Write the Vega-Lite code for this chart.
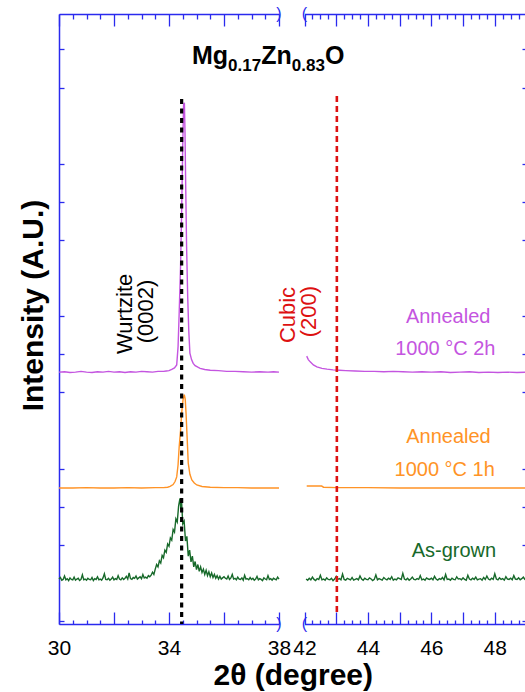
{
  "$schema": "https://vega.github.io/schema/vega-lite/v6.json",
  "width": 468,
  "height": 610,
  "autosize": {"type": "none"},
  "padding": {"left": 59, "top": 14, "right": 0, "bottom": 68},
  "background": "white",
  "config": {
    "view": {"stroke": null},
    "font": "Liberation Sans",
    "axis": {"grid": false, "domainColor": "#2a2aee", "tickColor": "#2a2aee", "domainWidth": 1.5, "tickWidth": 1.3, "labelFont": "Liberation Sans", "titleFont": "Liberation Sans", "labelColor": "#000000", "titleColor": "#000000"}
  },
  "datasets": {
    "tr": [
      {"s":"2h","k":"L","x":30,"y":6.53},{"s":"2h","k":"L","x":30.2,"y":6.54},{"s":"2h","k":"L","x":30.4,"y":6.52},{"s":"2h","k":"L","x":30.6,"y":6.53},{"s":"2h","k":"L","x":30.8,"y":6.55},{"s":"2h","k":"L","x":31,"y":6.53},{"s":"2h","k":"L","x":31.2,"y":6.52},{"s":"2h","k":"L","x":31.4,"y":6.54},{"s":"2h","k":"L","x":31.6,"y":6.53},{"s":"2h","k":"L","x":31.8,"y":6.55},{"s":"2h","k":"L","x":32,"y":6.53},{"s":"2h","k":"L","x":32.2,"y":6.54},{"s":"2h","k":"L","x":32.4,"y":6.52},{"s":"2h","k":"L","x":32.6,"y":6.54},{"s":"2h","k":"L","x":32.8,"y":6.53},{"s":"2h","k":"L","x":33,"y":6.55},{"s":"2h","k":"L","x":33.2,"y":6.54},{"s":"2h","k":"L","x":33.4,"y":6.53},{"s":"2h","k":"L","x":33.6,"y":6.55},{"s":"2h","k":"L","x":33.8,"y":6.55},{"s":"2h","k":"L","x":33.9,"y":6.56},{"s":"2h","k":"L","x":34.0,"y":6.57},{"s":"2h","k":"L","x":34.1,"y":6.6},{"s":"2h","k":"L","x":34.2,"y":6.64},{"s":"2h","k":"L","x":34.28,"y":6.72},{"s":"2h","k":"L","x":34.33,"y":7.2},{"s":"2h","k":"L","x":34.37,"y":8.08},{"s":"2h","k":"L","x":34.42,"y":9.3},{"s":"2h","k":"L","x":34.46,"y":10.7},{"s":"2h","k":"L","x":34.5,"y":12.5},{"s":"2h","k":"L","x":34.53,"y":13.55},{"s":"2h","k":"L","x":34.56,"y":13.6},{"s":"2h","k":"L","x":34.58,"y":12.9},{"s":"2h","k":"L","x":34.61,"y":11.3},{"s":"2h","k":"L","x":34.64,"y":9.82},{"s":"2h","k":"L","x":34.68,"y":8.5},{"s":"2h","k":"L","x":34.72,"y":7.6},{"s":"2h","k":"L","x":34.76,"y":7.03},{"s":"2h","k":"L","x":34.82,"y":6.86},{"s":"2h","k":"L","x":34.88,"y":6.76},{"s":"2h","k":"L","x":34.95,"y":6.7},{"s":"2h","k":"L","x":35.05,"y":6.66},{"s":"2h","k":"L","x":35.13,"y":6.63},{"s":"2h","k":"L","x":35.3,"y":6.6},{"s":"2h","k":"L","x":35.5,"y":6.58},{"s":"2h","k":"L","x":35.8,"y":6.57},{"s":"2h","k":"L","x":36.1,"y":6.55},{"s":"2h","k":"L","x":36.4,"y":6.55},{"s":"2h","k":"L","x":36.7,"y":6.54},{"s":"2h","k":"L","x":37.0,"y":6.53},{"s":"2h","k":"L","x":37.3,"y":6.54},{"s":"2h","k":"L","x":37.6,"y":6.53},{"s":"2h","k":"L","x":37.8,"y":6.54},{"s":"2h","k":"L","x":38.0,"y":6.53},
      {"s":"2h","k":"R","x":42.07,"y":6.95},{"s":"2h","k":"R","x":42.12,"y":6.86},{"s":"2h","k":"R","x":42.18,"y":6.8},{"s":"2h","k":"R","x":42.28,"y":6.72},{"s":"2h","k":"R","x":42.39,"y":6.67},{"s":"2h","k":"R","x":42.55,"y":6.63},{"s":"2h","k":"R","x":42.71,"y":6.61},{"s":"2h","k":"R","x":42.9,"y":6.59},{"s":"2h","k":"R","x":43.1,"y":6.58},{"s":"2h","k":"R","x":43.3,"y":6.57},{"s":"2h","k":"R","x":43.6,"y":6.56},{"s":"2h","k":"R","x":43.9,"y":6.55},{"s":"2h","k":"R","x":44.2,"y":6.55},{"s":"2h","k":"R","x":44.5,"y":6.54},{"s":"2h","k":"R","x":44.8,"y":6.55},{"s":"2h","k":"R","x":45.1,"y":6.54},{"s":"2h","k":"R","x":45.4,"y":6.53},{"s":"2h","k":"R","x":45.7,"y":6.54},{"s":"2h","k":"R","x":46.0,"y":6.53},{"s":"2h","k":"R","x":46.3,"y":6.54},{"s":"2h","k":"R","x":46.6,"y":6.52},{"s":"2h","k":"R","x":46.9,"y":6.53},{"s":"2h","k":"R","x":47.2,"y":6.54},{"s":"2h","k":"R","x":47.5,"y":6.52},{"s":"2h","k":"R","x":47.8,"y":6.53},{"s":"2h","k":"R","x":48.1,"y":6.52},{"s":"2h","k":"R","x":48.4,"y":6.53},{"s":"2h","k":"R","x":48.7,"y":6.52},{"s":"2h","k":"R","x":49.0,"y":6.53},
      {"s":"1h","k":"L","x":30,"y":3.49},{"s":"1h","k":"L","x":30.5,"y":3.49},{"s":"1h","k":"L","x":31,"y":3.5},{"s":"1h","k":"L","x":31.5,"y":3.49},{"s":"1h","k":"L","x":32,"y":3.49},{"s":"1h","k":"L","x":32.5,"y":3.5},{"s":"1h","k":"L","x":33,"y":3.49},{"s":"1h","k":"L","x":33.5,"y":3.5},{"s":"1h","k":"L","x":33.8,"y":3.5},{"s":"1h","k":"L","x":33.95,"y":3.51},{"s":"1h","k":"L","x":34.04,"y":3.53},{"s":"1h","k":"L","x":34.15,"y":3.58},{"s":"1h","k":"L","x":34.22,"y":3.66},{"s":"1h","k":"L","x":34.28,"y":3.78},{"s":"1h","k":"L","x":34.33,"y":4.1},{"s":"1h","k":"L","x":34.37,"y":4.57},{"s":"1h","k":"L","x":34.42,"y":5.0},{"s":"1h","k":"L","x":34.46,"y":5.45},{"s":"1h","k":"L","x":34.51,"y":5.8},{"s":"1h","k":"L","x":34.555,"y":5.94},{"s":"1h","k":"L","x":34.59,"y":5.82},{"s":"1h","k":"L","x":34.62,"y":5.45},{"s":"1h","k":"L","x":34.66,"y":4.8},{"s":"1h","k":"L","x":34.7,"y":4.14},{"s":"1h","k":"L","x":34.76,"y":3.85},{"s":"1h","k":"L","x":34.83,"y":3.7},{"s":"1h","k":"L","x":34.92,"y":3.62},{"s":"1h","k":"L","x":35.01,"y":3.57},{"s":"1h","k":"L","x":35.2,"y":3.53},{"s":"1h","k":"L","x":35.5,"y":3.51},{"s":"1h","k":"L","x":36,"y":3.5},{"s":"1h","k":"L","x":36.5,"y":3.5},{"s":"1h","k":"L","x":37,"y":3.49},{"s":"1h","k":"L","x":37.5,"y":3.49},{"s":"1h","k":"L","x":38,"y":3.49},
      {"s":"1h","k":"R","x":42.07,"y":3.54},{"s":"1h","k":"R","x":42.3,"y":3.54},{"s":"1h","k":"R","x":42.54,"y":3.54},{"s":"1h","k":"R","x":42.6,"y":3.51},{"s":"1h","k":"R","x":43,"y":3.5},{"s":"1h","k":"R","x":44,"y":3.5},{"s":"1h","k":"R","x":45,"y":3.49},{"s":"1h","k":"R","x":46,"y":3.49},{"s":"1h","k":"R","x":47,"y":3.49},{"s":"1h","k":"R","x":48,"y":3.49},{"s":"1h","k":"R","x":49,"y":3.49},
      {"s":"ag","k":"L","x":30.0,"y":1.10},{"s":"ag","k":"L","x":30.05,"y":1.14},{"s":"ag","k":"L","x":30.1,"y":1.07},{"s":"ag","k":"L","x":30.15,"y":1.09},{"s":"ag","k":"L","x":30.2,"y":1.18},{"s":"ag","k":"L","x":30.25,"y":1.08},{"s":"ag","k":"L","x":30.3,"y":1.11},{"s":"ag","k":"L","x":30.35,"y":1.06},{"s":"ag","k":"L","x":30.4,"y":1.13},{"s":"ag","k":"L","x":30.45,"y":1.09},
      {"s":"ag","k":"L","x":30.5,"y":1.08},{"s":"ag","k":"L","x":30.55,"y":1.15},{"s":"ag","k":"L","x":30.6,"y":1.07},{"s":"ag","k":"L","x":30.65,"y":1.10},{"s":"ag","k":"L","x":30.7,"y":1.12},{"s":"ag","k":"L","x":30.75,"y":1.06},{"s":"ag","k":"L","x":30.8,"y":1.09},{"s":"ag","k":"L","x":30.85,"y":1.21},{"s":"ag","k":"L","x":30.9,"y":1.08},{"s":"ag","k":"L","x":30.95,"y":1.10},
      {"s":"ag","k":"L","x":31.0,"y":1.07},{"s":"ag","k":"L","x":31.05,"y":1.12},{"s":"ag","k":"L","x":31.1,"y":1.09},{"s":"ag","k":"L","x":31.15,"y":1.08},{"s":"ag","k":"L","x":31.2,"y":1.14},{"s":"ag","k":"L","x":31.25,"y":1.06},{"s":"ag","k":"L","x":31.3,"y":1.11},{"s":"ag","k":"L","x":31.35,"y":1.09},{"s":"ag","k":"L","x":31.4,"y":1.16},{"s":"ag","k":"L","x":31.45,"y":1.08},
      {"s":"ag","k":"L","x":31.5,"y":1.10},{"s":"ag","k":"L","x":31.55,"y":1.07},{"s":"ag","k":"L","x":31.6,"y":1.13},{"s":"ag","k":"L","x":31.65,"y":1.24},{"s":"ag","k":"L","x":31.7,"y":1.09},{"s":"ag","k":"L","x":31.75,"y":1.08},{"s":"ag","k":"L","x":31.8,"y":1.12},{"s":"ag","k":"L","x":31.85,"y":1.07},{"s":"ag","k":"L","x":31.9,"y":1.10},{"s":"ag","k":"L","x":31.95,"y":1.15},
      {"s":"ag","k":"L","x":32.0,"y":1.08},{"s":"ag","k":"L","x":32.05,"y":1.11},{"s":"ag","k":"L","x":32.1,"y":1.09},{"s":"ag","k":"L","x":32.15,"y":1.19},{"s":"ag","k":"L","x":32.2,"y":1.10},{"s":"ag","k":"L","x":32.25,"y":1.08},{"s":"ag","k":"L","x":32.3,"y":1.13},{"s":"ag","k":"L","x":32.35,"y":1.09},{"s":"ag","k":"L","x":32.4,"y":1.12},{"s":"ag","k":"L","x":32.45,"y":1.17},
      {"s":"ag","k":"L","x":32.5,"y":1.10},{"s":"ag","k":"L","x":32.55,"y":1.26},{"s":"ag","k":"L","x":32.6,"y":1.11},{"s":"ag","k":"L","x":32.65,"y":1.09},{"s":"ag","k":"L","x":32.7,"y":1.14},{"s":"ag","k":"L","x":32.75,"y":1.12},{"s":"ag","k":"L","x":32.8,"y":1.18},{"s":"ag","k":"L","x":32.85,"y":1.10},{"s":"ag","k":"L","x":32.9,"y":1.13},{"s":"ag","k":"L","x":32.95,"y":1.16},
      {"s":"ag","k":"L","x":33.0,"y":1.11},{"s":"ag","k":"L","x":33.05,"y":1.22},{"s":"ag","k":"L","x":33.1,"y":1.13},{"s":"ag","k":"L","x":33.15,"y":1.15},{"s":"ag","k":"L","x":33.2,"y":1.12},{"s":"ag","k":"L","x":33.25,"y":1.19},{"s":"ag","k":"L","x":33.3,"y":1.16},
      {"s":"ag","k":"L","x":33.35,"y":1.2},{"s":"ag","k":"L","x":33.4,"y":1.28},{"s":"ag","k":"L","x":33.45,"y":1.22},{"s":"ag","k":"L","x":33.5,"y":1.36},{"s":"ag","k":"L","x":33.55,"y":1.48},{"s":"ag","k":"L","x":33.6,"y":1.42},{"s":"ag","k":"L","x":33.65,"y":1.58},{"s":"ag","k":"L","x":33.7,"y":1.52},{"s":"ag","k":"L","x":33.75,"y":1.72},{"s":"ag","k":"L","x":33.8,"y":1.66},{"s":"ag","k":"L","x":33.85,"y":1.86},{"s":"ag","k":"L","x":33.9,"y":1.8},{"s":"ag","k":"L","x":33.95,"y":2.02},{"s":"ag","k":"L","x":34.0,"y":1.96},{"s":"ag","k":"L","x":34.05,"y":2.18},{"s":"ag","k":"L","x":34.1,"y":2.12},{"s":"ag","k":"L","x":34.15,"y":2.4},{"s":"ag","k":"L","x":34.2,"y":2.33},{"s":"ag","k":"L","x":34.25,"y":2.68},{"s":"ag","k":"L","x":34.3,"y":2.6},{"s":"ag","k":"L","x":34.35,"y":3.02},{"s":"ag","k":"L","x":34.4,"y":3.22},{"s":"ag","k":"L","x":34.43,"y":2.95},{"s":"ag","k":"L","x":34.46,"y":3.1},{"s":"ag","k":"L","x":34.5,"y":2.55},{"s":"ag","k":"L","x":34.55,"y":2.62},{"s":"ag","k":"L","x":34.6,"y":2.1},{"s":"ag","k":"L","x":34.65,"y":2.22},{"s":"ag","k":"L","x":34.7,"y":1.7},{"s":"ag","k":"L","x":34.75,"y":1.86},{"s":"ag","k":"L","x":34.8,"y":1.55},{"s":"ag","k":"L","x":34.85,"y":1.7},{"s":"ag","k":"L","x":34.9,"y":1.42},{"s":"ag","k":"L","x":34.95,"y":1.56},{"s":"ag","k":"L","x":35.0,"y":1.35},{"s":"ag","k":"L","x":35.05,"y":1.48},{"s":"ag","k":"L","x":35.1,"y":1.3},{"s":"ag","k":"L","x":35.15,"y":1.42},{"s":"ag","k":"L","x":35.2,"y":1.27},{"s":"ag","k":"L","x":35.25,"y":1.36},{"s":"ag","k":"L","x":35.3,"y":1.22},{"s":"ag","k":"L","x":35.35,"y":1.33},{"s":"ag","k":"L","x":35.4,"y":1.19},{"s":"ag","k":"L","x":35.45,"y":1.29},{"s":"ag","k":"L","x":35.5,"y":1.16},{"s":"ag","k":"L","x":35.55,"y":1.26},{"s":"ag","k":"L","x":35.6,"y":1.14},{"s":"ag","k":"L","x":35.65,"y":1.22},{"s":"ag","k":"L","x":35.7,"y":1.12},{"s":"ag","k":"L","x":35.75,"y":1.19},{"s":"ag","k":"L","x":35.8,"y":1.1},{"s":"ag","k":"L","x":35.85,"y":1.17},{"s":"ag","k":"L","x":35.9,"y":1.1},{"s":"ag","k":"L","x":35.95,"y":1.13},
      {"s":"ag","k":"L","x":36.0,"y":1.16},{"s":"ag","k":"L","x":36.05,"y":1.12},{"s":"ag","k":"L","x":36.1,"y":1.10},{"s":"ag","k":"L","x":36.15,"y":1.18},{"s":"ag","k":"L","x":36.2,"y":1.09},{"s":"ag","k":"L","x":36.25,"y":1.13},{"s":"ag","k":"L","x":36.3,"y":1.22},{"s":"ag","k":"L","x":36.35,"y":1.10},{"s":"ag","k":"L","x":36.4,"y":1.12},{"s":"ag","k":"L","x":36.45,"y":1.08},
      {"s":"ag","k":"L","x":36.5,"y":1.15},{"s":"ag","k":"L","x":36.55,"y":1.10},{"s":"ag","k":"L","x":36.6,"y":1.09},{"s":"ag","k":"L","x":36.65,"y":1.13},{"s":"ag","k":"L","x":36.7,"y":1.07},{"s":"ag","k":"L","x":36.75,"y":1.20},{"s":"ag","k":"L","x":36.8,"y":1.10},{"s":"ag","k":"L","x":36.85,"y":1.11},{"s":"ag","k":"L","x":36.9,"y":1.08},{"s":"ag","k":"L","x":36.95,"y":1.14},
      {"s":"ag","k":"L","x":37.0,"y":1.09},{"s":"ag","k":"L","x":37.05,"y":1.12},{"s":"ag","k":"L","x":37.1,"y":1.07},{"s":"ag","k":"L","x":37.15,"y":1.10},{"s":"ag","k":"L","x":37.2,"y":1.17},{"s":"ag","k":"L","x":37.25,"y":1.08},{"s":"ag","k":"L","x":37.3,"y":1.11},{"s":"ag","k":"L","x":37.35,"y":1.09},{"s":"ag","k":"L","x":37.4,"y":1.06},{"s":"ag","k":"L","x":37.45,"y":1.13},
      {"s":"ag","k":"L","x":37.5,"y":1.10},{"s":"ag","k":"L","x":37.55,"y":1.08},{"s":"ag","k":"L","x":37.6,"y":1.19},{"s":"ag","k":"L","x":37.65,"y":1.09},{"s":"ag","k":"L","x":37.7,"y":1.11},{"s":"ag","k":"L","x":37.75,"y":1.07},{"s":"ag","k":"L","x":37.8,"y":1.12},{"s":"ag","k":"L","x":37.85,"y":1.10},{"s":"ag","k":"L","x":37.9,"y":1.08},{"s":"ag","k":"L","x":37.95,"y":1.15},{"s":"ag","k":"L","x":38.0,"y":1.10},
      {"s":"ag","k":"R","x":42.05,"y":1.10},{"s":"ag","k":"R","x":42.1,"y":1.07},{"s":"ag","k":"R","x":42.15,"y":1.12},{"s":"ag","k":"R","x":42.2,"y":1.08},{"s":"ag","k":"R","x":42.25,"y":1.15},{"s":"ag","k":"R","x":42.3,"y":1.09},{"s":"ag","k":"R","x":42.35,"y":1.06},{"s":"ag","k":"R","x":42.4,"y":1.11},{"s":"ag","k":"R","x":42.45,"y":1.09},{"s":"ag","k":"R","x":42.5,"y":1.20},
      {"s":"ag","k":"R","x":42.55,"y":1.08},{"s":"ag","k":"R","x":42.6,"y":1.10},{"s":"ag","k":"R","x":42.65,"y":1.07},{"s":"ag","k":"R","x":42.7,"y":1.13},{"s":"ag","k":"R","x":42.75,"y":1.09},{"s":"ag","k":"R","x":42.8,"y":1.08},{"s":"ag","k":"R","x":42.85,"y":1.12},{"s":"ag","k":"R","x":42.9,"y":1.06},{"s":"ag","k":"R","x":42.95,"y":1.10},{"s":"ag","k":"R","x":43.0,"y":1.17},
      {"s":"ag","k":"R","x":43.05,"y":1.09},{"s":"ag","k":"R","x":43.1,"y":1.11},{"s":"ag","k":"R","x":43.15,"y":1.08},{"s":"ag","k":"R","x":43.2,"y":1.23},{"s":"ag","k":"R","x":43.25,"y":1.09},{"s":"ag","k":"R","x":43.3,"y":1.07},{"s":"ag","k":"R","x":43.35,"y":1.12},{"s":"ag","k":"R","x":43.4,"y":1.10},{"s":"ag","k":"R","x":43.45,"y":1.08},{"s":"ag","k":"R","x":43.5,"y":1.14},
      {"s":"ag","k":"R","x":43.55,"y":1.07},{"s":"ag","k":"R","x":43.6,"y":1.09},{"s":"ag","k":"R","x":43.65,"y":1.11},{"s":"ag","k":"R","x":43.7,"y":1.08},{"s":"ag","k":"R","x":43.75,"y":1.18},{"s":"ag","k":"R","x":43.8,"y":1.10},{"s":"ag","k":"R","x":43.85,"y":1.07},{"s":"ag","k":"R","x":43.9,"y":1.12},{"s":"ag","k":"R","x":43.95,"y":1.09},{"s":"ag","k":"R","x":44.0,"y":1.08},
      {"s":"ag","k":"R","x":44.05,"y":1.13},{"s":"ag","k":"R","x":44.1,"y":1.10},{"s":"ag","k":"R","x":44.15,"y":1.06},{"s":"ag","k":"R","x":44.2,"y":1.09},{"s":"ag","k":"R","x":44.25,"y":1.21},{"s":"ag","k":"R","x":44.3,"y":1.08},{"s":"ag","k":"R","x":44.35,"y":1.11},{"s":"ag","k":"R","x":44.4,"y":1.09},{"s":"ag","k":"R","x":44.45,"y":1.07},{"s":"ag","k":"R","x":44.5,"y":1.14},
      {"s":"ag","k":"R","x":44.55,"y":1.10},{"s":"ag","k":"R","x":44.6,"y":1.08},{"s":"ag","k":"R","x":44.65,"y":1.12},{"s":"ag","k":"R","x":44.7,"y":1.09},{"s":"ag","k":"R","x":44.75,"y":1.16},{"s":"ag","k":"R","x":44.8,"y":1.07},{"s":"ag","k":"R","x":44.85,"y":1.10},{"s":"ag","k":"R","x":44.9,"y":1.08},{"s":"ag","k":"R","x":44.95,"y":1.13},{"s":"ag","k":"R","x":45.0,"y":1.11},
      {"s":"ag","k":"R","x":45.05,"y":1.09},{"s":"ag","k":"R","x":45.1,"y":1.25},{"s":"ag","k":"R","x":45.15,"y":1.10},{"s":"ag","k":"R","x":45.2,"y":1.08},{"s":"ag","k":"R","x":45.25,"y":1.12},{"s":"ag","k":"R","x":45.3,"y":1.07},{"s":"ag","k":"R","x":45.35,"y":1.10},{"s":"ag","k":"R","x":45.4,"y":1.15},{"s":"ag","k":"R","x":45.45,"y":1.09},{"s":"ag","k":"R","x":45.5,"y":1.08},
      {"s":"ag","k":"R","x":45.55,"y":1.11},{"s":"ag","k":"R","x":45.6,"y":1.09},{"s":"ag","k":"R","x":45.65,"y":1.19},{"s":"ag","k":"R","x":45.7,"y":1.08},{"s":"ag","k":"R","x":45.75,"y":1.10},{"s":"ag","k":"R","x":45.8,"y":1.07},{"s":"ag","k":"R","x":45.85,"y":1.13},{"s":"ag","k":"R","x":45.9,"y":1.10},{"s":"ag","k":"R","x":45.95,"y":1.09},{"s":"ag","k":"R","x":46.0,"y":1.12},
      {"s":"ag","k":"R","x":46.05,"y":1.08},{"s":"ag","k":"R","x":46.1,"y":1.17},{"s":"ag","k":"R","x":46.15,"y":1.10},{"s":"ag","k":"R","x":46.2,"y":1.07},{"s":"ag","k":"R","x":46.25,"y":1.11},{"s":"ag","k":"R","x":46.3,"y":1.09},{"s":"ag","k":"R","x":46.35,"y":1.14},{"s":"ag","k":"R","x":46.4,"y":1.08},{"s":"ag","k":"R","x":46.45,"y":1.22},{"s":"ag","k":"R","x":46.5,"y":1.09},
      {"s":"ag","k":"R","x":46.55,"y":1.10},{"s":"ag","k":"R","x":46.6,"y":1.07},{"s":"ag","k":"R","x":46.65,"y":1.12},{"s":"ag","k":"R","x":46.7,"y":1.09},{"s":"ag","k":"R","x":46.75,"y":1.08},{"s":"ag","k":"R","x":46.8,"y":1.16},{"s":"ag","k":"R","x":46.85,"y":1.10},{"s":"ag","k":"R","x":46.9,"y":1.11},{"s":"ag","k":"R","x":46.95,"y":1.08},{"s":"ag","k":"R","x":47.0,"y":1.13},
      {"s":"ag","k":"R","x":47.05,"y":1.09},{"s":"ag","k":"R","x":47.1,"y":1.07},{"s":"ag","k":"R","x":47.15,"y":1.20},{"s":"ag","k":"R","x":47.2,"y":1.10},{"s":"ag","k":"R","x":47.25,"y":1.08},{"s":"ag","k":"R","x":47.3,"y":1.12},{"s":"ag","k":"R","x":47.35,"y":1.09},{"s":"ag","k":"R","x":47.4,"y":1.15},{"s":"ag","k":"R","x":47.45,"y":1.08},{"s":"ag","k":"R","x":47.5,"y":1.10},
      {"s":"ag","k":"R","x":47.55,"y":1.11},{"s":"ag","k":"R","x":47.6,"y":1.07},{"s":"ag","k":"R","x":47.65,"y":1.14},{"s":"ag","k":"R","x":47.7,"y":1.09},{"s":"ag","k":"R","x":47.75,"y":1.18},{"s":"ag","k":"R","x":47.8,"y":1.10},{"s":"ag","k":"R","x":47.85,"y":1.08},{"s":"ag","k":"R","x":47.9,"y":1.12},{"s":"ag","k":"R","x":47.95,"y":1.09},{"s":"ag","k":"R","x":48.0,"y":1.24},
      {"s":"ag","k":"R","x":48.05,"y":1.10},{"s":"ag","k":"R","x":48.1,"y":1.08},{"s":"ag","k":"R","x":48.15,"y":1.13},{"s":"ag","k":"R","x":48.2,"y":1.09},{"s":"ag","k":"R","x":48.25,"y":1.11},{"s":"ag","k":"R","x":48.3,"y":1.07},{"s":"ag","k":"R","x":48.35,"y":1.16},{"s":"ag","k":"R","x":48.4,"y":1.10},{"s":"ag","k":"R","x":48.45,"y":1.09},{"s":"ag","k":"R","x":48.5,"y":1.12},
      {"s":"ag","k":"R","x":48.55,"y":1.08},{"s":"ag","k":"R","x":48.6,"y":1.19},{"s":"ag","k":"R","x":48.65,"y":1.10},{"s":"ag","k":"R","x":48.7,"y":1.09},{"s":"ag","k":"R","x":48.75,"y":1.13},{"s":"ag","k":"R","x":48.8,"y":1.08},{"s":"ag","k":"R","x":48.85,"y":1.11},{"s":"ag","k":"R","x":48.9,"y":1.15},{"s":"ag","k":"R","x":48.95,"y":1.09},{"s":"ag","k":"R","x":49.0,"y":1.10}
    ],
    "wz": [{"x": 34.46, "y1": 13.7, "y2": -0.08}],
    "cu": [{"x": 43.02, "y1": 13.78, "y2": 0.23}],
    "brk": [{"x":38,"y":-0.08,"t":")"},{"x":42,"y":-0.08,"t":"("},{"x":38,"y":15.93,"t":")"},{"x":42,"y":15.93,"t":"("}],
    "tbig": [{"x":34.836,"y":14.62,"t":"Mg"},{"x":37.353,"y":14.62,"t":"Zn"},{"x":42.644,"y":14.62,"t":"O"}],
    "tsub": [{"x":36.149,"y":14.43,"t":"0.17"},{"x":40.008,"y":14.43,"t":"0.83"}],
    "lab": [
      {"s":"2h","x":46.53,"y":7.82,"t":"Annealed"},
      {"s":"2h","x":46.44,"y":6.98,"t":"1000 °C 2h"},
      {"s":"1h","x":46.54,"y":4.67,"t":"Annealed"},
      {"s":"1h","x":46.42,"y":3.8,"t":"1000 °C 1h"},
      {"s":"ag","x":46.71,"y":1.69,"t":"As-grown"}
    ],
    "wlab": [{"x":32.64,"y":8.06,"t":"Wurtzite"},{"x":33.43,"y":8.12,"t":"(0002)"}],
    "clab": [{"x":40.51,"y":8.03,"t":"Cubic"},{"x":42.375,"y":8.12,"t":"(200)"}]
  },
  "resolve": {"axis": {"x": "independent", "y": "independent"}},
  "layer": [
    {
      "data": {"name": "tr"},
      "mark": {"type": "line", "strokeWidth": 1.4},
      "encoding": {
        "x": {"field": "x", "type": "quantitative",
          "scale": {"domain": [30, 38, 42, 49], "range": [0, 220, 245.5, 467.5], "nice": false, "zero": false},
          "axis": {"orient": "bottom", "values": [30,32,34,36,38,42,43,44,45,46,47,48,49],
            "labelExpr": "indexof([30,34,38,42,44,46,48], datum.value) >= 0 ? datum.label : ''",
            "tickSize": -12, "labelPadding": 25, "labelFontSize": 21, "labelFlush": false, "labelOverlap": false,
            "domainDash": [220, 25.5, 400],
            "title": "2θ (degree)", "titleFontSize": 30, "titleFontWeight": "bold", "titlePadding": 36, "minExtent": 0, "maxExtent": 0}},
        "y": {"field": "y", "type": "quantitative",
          "scale": {"domain": [-0.08, 15.93], "nice": false, "zero": false},
          "axis": {"orient": "left", "values": [0,2,3,4,6,7,8,10,11,12,14,15], "tickSize": -5, "labels": false,
            "title": "Intensity (A.U.)", "titleFontSize": 30, "titleFontWeight": "bold", "titlePadding": 11, "titleY": 291, "minExtent": 0, "maxExtent": 0}},
        "color": {"field": "s", "type": "nominal", "scale": {"domain": ["2h", "1h", "ag"], "range": ["#c455e0", "#ff9326", "#17692a"]}, "legend": null},
        "detail": {"field": "k", "type": "nominal"}
      }
    },
    {
      "data": {"name": "wz"},
      "mark": {"type": "rule", "color": "#000000", "strokeWidth": 3.2, "strokeDash": [5, 4.5]},
      "encoding": {
        "x": {"field": "x", "type": "quantitative",
          "scale": {"domain": [30, 38, 42, 49], "range": [0, 220, 245.5, 467.5], "nice": false, "zero": false},
          "axis": {"orient": "bottom", "values": [30.5,31,31.5,32.5,33,33.5,34.5,35,35.5,36.5,37,37.5,42.25,42.5,42.75,43.25,43.5,43.75,44.25,44.5,44.75,45.25,45.5,45.75,46.25,46.5,46.75,47.25,47.5,47.75,48.25,48.5,48.75],
            "tickSize": -4, "labels": false, "domain": false, "title": null}},
        "y": {"field": "y1", "type": "quantitative",
          "scale": {"domain": [-0.08, 15.93], "nice": false, "zero": false},
          "axis": {"orient": "right", "values": [0,2,3,4,6,7,8,10,11,12,14,15], "tickSize": -5, "labels": false, "title": null}},
        "y2": {"field": "y2"}
      }
    },
    {
      "data": {"name": "cu"},
      "mark": {"type": "rule", "color": "#dd1111", "strokeWidth": 2.6, "strokeDash": [6, 4]},
      "encoding": {
        "x": {"field": "x", "type": "quantitative",
          "scale": {"domain": [30, 38, 42, 49], "range": [0, 220, 245.5, 467.5], "nice": false, "zero": false},
          "axis": {"orient": "top", "values": [30,32,34,36,38,42,43,44,45,46,47,48,49], "tickSize": -12, "labels": false,
            "domainDash": [220, 25.5, 400], "title": null}},
        "y": {"field": "y1", "type": "quantitative", "scale": {"domain": [-0.08, 15.93], "nice": false, "zero": false}, "axis": null},
        "y2": {"field": "y2"}
      }
    },
    {
      "data": {"name": "brk"},
      "mark": {"type": "text", "fontSize": 16, "color": "#2a2aee", "align": "center", "baseline": "middle"},
      "encoding": {
        "x": {"field": "x", "type": "quantitative",
          "scale": {"domain": [30, 38, 42, 49], "range": [0, 220, 245.5, 467.5], "nice": false, "zero": false},
          "axis": {"orient": "top", "values": [30.5,31,31.5,32.5,33,33.5,34.5,35,35.5,36.5,37,37.5,42.25,42.5,42.75,43.25,43.5,43.75,44.25,44.5,44.75,45.25,45.5,45.75,46.25,46.5,46.75,47.25,47.5,47.75,48.25,48.5,48.75],
            "tickSize": -5, "labels": false, "domain": false, "title": null}},
        "y": {"field": "y", "type": "quantitative", "scale": {"domain": [-0.08, 15.93], "nice": false, "zero": false}, "axis": null},
        "text": {"field": "t"}
      }
    },
    {
      "data": {"name": "tbig"},
      "mark": {"type": "text", "fontSize": 25, "fontWeight": "bold", "align": "left", "baseline": "alphabetic", "color": "#000000"},
      "encoding": {
        "x": {"field": "x", "type": "quantitative", "scale": {"domain": [30, 38, 42, 49], "range": [0, 220, 245.5, 467.5], "nice": false, "zero": false}, "axis": null},
        "y": {"field": "y", "type": "quantitative", "scale": {"domain": [-0.08, 15.93], "nice": false, "zero": false}, "axis": null},
        "text": {"field": "t"}
      }
    },
    {
      "data": {"name": "tsub"},
      "mark": {"type": "text", "fontSize": 17, "fontWeight": "bold", "align": "left", "baseline": "alphabetic", "color": "#000000"},
      "encoding": {
        "x": {"field": "x", "type": "quantitative", "scale": {"domain": [30, 38, 42, 49], "range": [0, 220, 245.5, 467.5], "nice": false, "zero": false}, "axis": null},
        "y": {"field": "y", "type": "quantitative", "scale": {"domain": [-0.08, 15.93], "nice": false, "zero": false}, "axis": null},
        "text": {"field": "t"}
      }
    },
    {
      "data": {"name": "lab"},
      "mark": {"type": "text", "fontSize": 20, "align": "center", "baseline": "alphabetic"},
      "encoding": {
        "x": {"field": "x", "type": "quantitative", "scale": {"domain": [30, 38, 42, 49], "range": [0, 220, 245.5, 467.5], "nice": false, "zero": false}, "axis": null},
        "y": {"field": "y", "type": "quantitative", "scale": {"domain": [-0.08, 15.93], "nice": false, "zero": false}, "axis": null},
        "color": {"field": "s", "type": "nominal", "scale": {"domain": ["2h", "1h", "ag"], "range": ["#c455e0", "#ff9326", "#17692a"]}, "legend": null},
        "text": {"field": "t"}
      }
    },
    {
      "data": {"name": "wlab"},
      "mark": {"type": "text", "fontSize": 22, "angle": 270, "align": "center", "baseline": "alphabetic", "color": "#000000"},
      "encoding": {
        "x": {"field": "x", "type": "quantitative", "scale": {"domain": [30, 38, 42, 49], "range": [0, 220, 245.5, 467.5], "nice": false, "zero": false}, "axis": null},
        "y": {"field": "y", "type": "quantitative", "scale": {"domain": [-0.08, 15.93], "nice": false, "zero": false}, "axis": null},
        "text": {"field": "t"}
      }
    },
    {
      "data": {"name": "clab"},
      "mark": {"type": "text", "fontSize": 22, "angle": 270, "align": "center", "baseline": "alphabetic", "color": "#dd1111"},
      "encoding": {
        "x": {"field": "x", "type": "quantitative", "scale": {"domain": [30, 38, 42, 49], "range": [0, 220, 245.5, 467.5], "nice": false, "zero": false}, "axis": null},
        "y": {"field": "y", "type": "quantitative", "scale": {"domain": [-0.08, 15.93], "nice": false, "zero": false}, "axis": null},
        "text": {"field": "t"}
      }
    }
  ]
}
